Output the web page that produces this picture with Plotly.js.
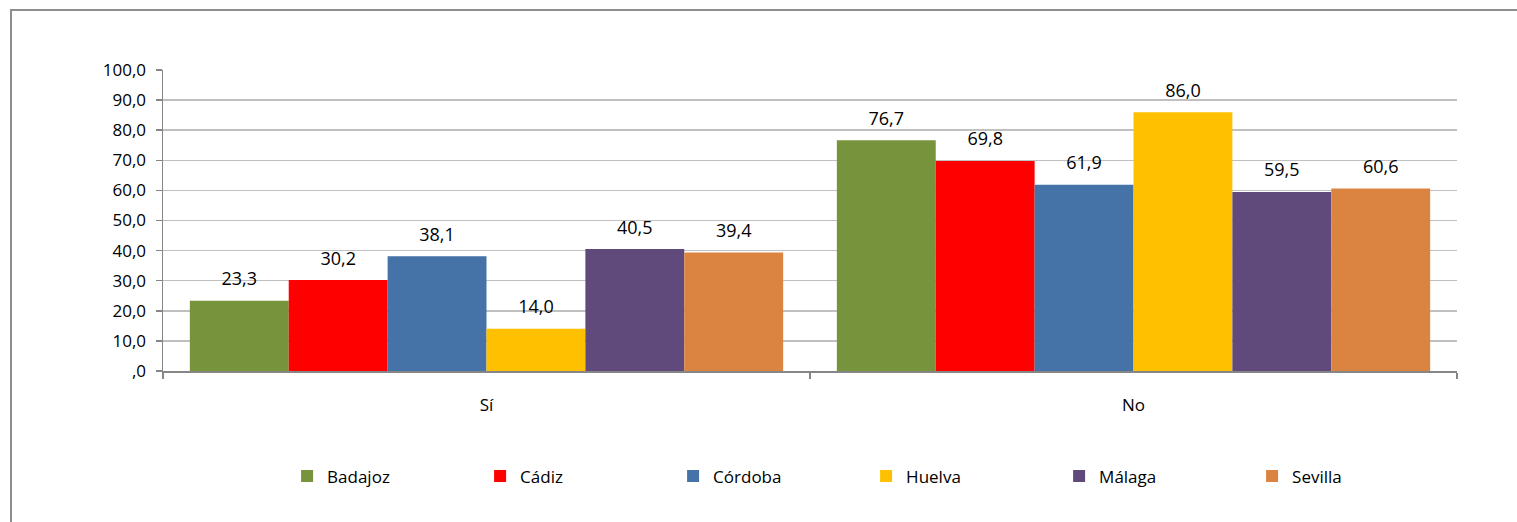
<!DOCTYPE html>
<html>
<head>
<meta charset="utf-8">
<script src="https://cdn.plot.ly/plotly-3.0.1.min.js"></script>
<style>
  html, body { margin: 0; padding: 0; background: #fff; }
  #chart { width: 1517px; height: 522px; position: absolute; left: 0; top: 0; }
  #frame { position: absolute; left: 10px; top: 9px; width: 1600px; height: 700px;
           border-left: 2px solid #8e8e8e; border-top: 2px solid #8e8e8e; pointer-events: none; }
</style>
</head>
<body>
<div id="chart"></div>
<div id="frame"></div>
<script>
const categories = ["Sí", "No"];
const seriesNames = ["Badajoz", "Cádiz", "Córdoba", "Huelva", "Málaga", "Sevilla"];
const badajoz = [23.3, 76.7];
const cadiz = [30.2, 69.8];
const cordoba = [38.1, 61.9];
const huelva = [14.0, 86.0];
const malaga = [40.5, 59.5];
const sevilla = [39.4, 60.6];
const seriesValues = [badajoz, cadiz, cordoba, huelva, malaga, sevilla];
const seriesColors = ["#77933C", "#FF0000", "#4572A7", "#FFC000", "#604A7B", "#DB8340"];
const yTickVals = [0, 10, 20, 30, 40, 50, 60, 70, 80, 90, 100];
const yTickText = [",0", "10,0", "20,0", "30,0", "40,0", "50,0", "60,0", "70,0", "80,0", "90,0", "100,0"];

const FONT = "Open Sans, sans-serif";
const BARGAP = 0.083;

const barTraces = seriesNames.map((name, i) => ({
  type: "bar",
  name: name,
  x: categories,
  y: seriesValues[i],
  marker: { color: seriesColors[i], line: { width: 0 } },
  hoverinfo: "none"
}));

// value labels, grouped like the bars, sitting above each bar
const labelTraces = seriesNames.map((name, i) => ({
  type: "scatter",
  mode: "markers+text",
  name: name + " labels",
  showlegend: false,
  x: categories,
  y: seriesValues[i],
  texttemplate: "%{y:.1f}",
  textposition: "top center",
  textfont: { family: FONT, size: 18, color: "#000" },
  marker: { size: 16, opacity: 0 },
  cliponaxis: false,
  hoverinfo: "none"
}));

const layout = {
  width: 1517,
  height: 522,
  separators: ",.",
  margin: { l: 163, r: 60, t: 70, b: 151 },
  paper_bgcolor: "#fff",
  plot_bgcolor: "#fff",
  barmode: "group",
  bargap: BARGAP,
  bargroupgap: 0,
  scattermode: "group",
  scattergap: BARGAP,
  font: { family: FONT, size: 17, color: "#000" },
  showlegend: true,
  legend: {
    orientation: "h",
    x: 0.0959,
    xanchor: "left",
    y: -0.35,
    yanchor: "middle",
    entrywidth: 148,
    entrywidthmode: "pixels",
    font: { family: FONT, size: 17, color: "#000" },
    itemclick: false,
    traceorder: "normal"
  },
  xaxis: {
    type: "category",
    tickson: "boundaries",
    ticks: "outside",
    ticklen: 6,
    tickwidth: 1.5,
    tickcolor: "#868686",
    showline: true,
    linecolor: "#868686",
    linewidth: 1.5,
    showgrid: false,
    tickfont: { family: FONT, size: 17, color: "#000" },
    ticklabelstandoff: 18
  },
  yaxis: {
    range: [0, 100],
    tickvals: yTickVals,
    ticktext: yTickText,
    ticks: "outside",
    ticklen: 6,
    tickwidth: 1.5,
    tickcolor: "#868686",
    showline: true,
    linecolor: "#868686",
    linewidth: 1.5,
    showgrid: true,
    gridcolor: "#C0C0C0",
    gridwidth: 1.5,
    zeroline: false,
    tickfont: { family: FONT, size: 17, color: "#000" },
    ticklabelstandoff: 6
  }
};

Plotly.newPlot("chart", barTraces.concat(labelTraces), layout, { displayModeBar: false, staticPlot: true });
</script>
</body>
</html>
